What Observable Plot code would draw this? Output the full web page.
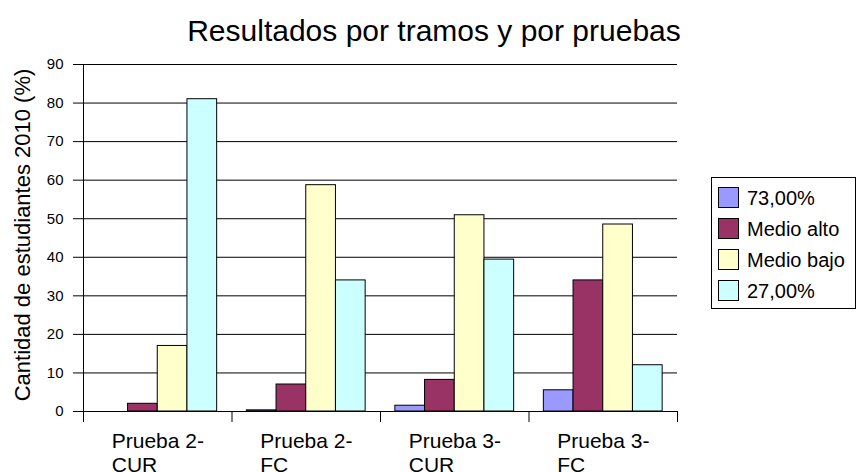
<!DOCTYPE html>
<html>
<head>
<meta charset="utf-8">
<script src="https://cdn.jsdelivr.net/npm/d3@7"></script>
<script src="https://cdn.jsdelivr.net/npm/@observablehq/plot@0.6"></script>
<style>
  body { margin: 0; background: #fff; font-family: "Liberation Sans", Arial, sans-serif; }
  #wrap { position: relative; width: 858px; height: 472px; overflow: hidden; }
  #title { position: absolute; left: 0; width: 868px; top: 14px; text-align: center; font-size: 30px; color: #000; white-space: nowrap; }
  #legend { position: absolute; left: 711px; top: 177px; width: 145px; height: 132px; border: 1px solid #000; box-sizing: border-box; background: #fff; }
  .item { position: absolute; left: 6px; height: 22px; font-size: 20px; line-height: 22px; color: #000; white-space: nowrap; }
  .sw { display: inline-block; width: 21px; height: 21px; border: 1px solid #000; box-sizing: border-box; vertical-align: top; margin-right: 8px; }
</style>
</head>
<body>
<div id="wrap">
  <div id="title">Resultados por tramos y por pruebas</div>
  <div id="legend"></div>
</div>
<script>
const groups = ["Prueba 2-\nCUR", "Prueba 2-\nFC", "Prueba 3-\nCUR", "Prueba 3-\nFC"];
const series = ["73,00%", "Medio alto", "Medio bajo", "27,00%"];
const colors = ["#9999FF", "#993366", "#FFFFCC", "#CCFFFF"];
const values73 = [0, 0.3, 1.5, 5.5];
const valuesMedioAlto = [2, 7, 8.2, 34];
const valuesMedioBajo = [17, 58.7, 50.9, 48.5];
const values27 = [81, 34, 39.4, 12];
const yTicks = [0, 10, 20, 30, 40, 50, 60, 70, 80, 90];
const yLabel = "Cantidad de estudiantes 2010 (%)";

const seriesValues = [values73, valuesMedioAlto, valuesMedioBajo, values27];
const rows = [];
groups.forEach((g, gi) => {
  seriesValues.forEach((vals, si) => {
    rows.push({group: g, gi, series: series[si], si, value: vals[gi]});
  });
});

const outer = 0.1, barW = 0.2;

const chart = Plot.plot({
  width: 858,
  height: 472,
  marginTop: 64,
  marginBottom: 61,
  marginLeft: 83,
  marginRight: 181,
  style: {fontFamily: "'Liberation Sans', Arial, sans-serif", background: "white", color: "#000"},
  x: {domain: [0, groups.length], axis: null},
  y: {domain: [0, 90], axis: null},
  color: {domain: series, range: colors},
  marks: [
    Plot.gridY(yTicks, {stroke: "#000", strokeOpacity: 1, strokeWidth: 1}),
    Plot.rect(rows, {
      x1: d => d.gi + outer + barW * d.si,
      x2: d => d.gi + outer + barW * (d.si + 1),
      y1: d => 0,
      y2: "value",
      fill: "series",
      stroke: "#000",
      strokeWidth: 1
    }),
    Plot.ruleX([0], {stroke: "#000"}),
    Plot.ruleY([0], {stroke: "#000"}),
    Plot.axisY({ticks: yTicks, tickSize: 10, tickPadding: 10, fontSize: 15, label: null}),
    Plot.axisX({ticks: d3.range(groups.length + 1), tickSize: 11, tickFormat: () => "", label: null}),
    Plot.text(groups, {
      x: (d, i) => i + 0.5,
      text: d => d,
      frameAnchor: "bottom",
      dy: 19,
      dx: -46,
      textAnchor: "start",
      lineAnchor: "top",
      lineHeight: 1.15,
      fontSize: 21,
      fill: "#000"
    }),
    Plot.text([yLabel], {
      text: d => d,
      frameAnchor: "left",
      textAnchor: "middle",
      dx: -61,
      dy: -3,
      rotate: -90,
      fontSize: 22,
      fill: "#000"
    })
  ]
});
document.getElementById("wrap").prepend(chart);

const legend = document.getElementById("legend");
series.forEach((s, i) => {
  const item = document.createElement("div");
  item.className = "item";
  item.style.top = (9 + 31 * i) + "px";
  const sw = document.createElement("span");
  sw.className = "sw";
  sw.style.background = colors[i];
  item.appendChild(sw);
  item.appendChild(document.createTextNode(s));
  legend.appendChild(item);
});
</script>
</body>
</html>
